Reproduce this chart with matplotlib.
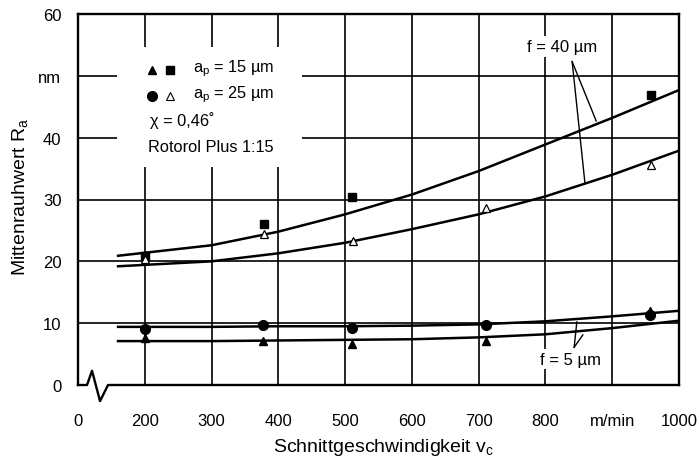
import matplotlib
matplotlib.use("Agg")
import matplotlib.pyplot as plt
from matplotlib.patches import Rectangle

plt.rcParams['font.family'] = ['Liberation Sans', 'DejaVu Sans']
plt.rcParams['mathtext.fontset'] = 'custom'
plt.rcParams['mathtext.rm'] = 'Liberation Sans'
plt.rcParams['mathtext.it'] = 'Liberation Sans:italic'

# ---- data ----
x_ticks = [100, 200, 300, 400, 500, 600, 700, 800, 900, 1000]
x_tick_labels = ['0', '200', '300', '400', '500', '600', '700', '800', 'm/min', '1000']
y_ticks = [0, 10, 20, 30, 40, 50, 60]
y_tick_labels = ['0', '10', '20', '30', '40', 'nm', '60']

# measured points
sq_v = [200, 378, 510, 958]            # a_p = 15 um, f = 40 um (filled squares)
sq_r = [20.8, 26.0, 30.4, 46.9]
otri_v = [200, 378, 512, 711, 958]     # a_p = 25 um, f = 40 um (open triangles)
otri_r = [20.3, 24.4, 23.3, 28.6, 35.6]
circ_v = [200, 377, 510, 711, 957]     # a_p = 25 um, f = 5 um (filled circles)
circ_r = [9.1, 9.7, 9.2, 9.7, 11.3]
ftri_v = [200, 377, 510, 711, 957]     # a_p = 15 um, f = 5 um (filled triangles)
ftri_r = [7.6, 7.1, 6.6, 7.1, 12.0]

# fitted curves
curve_v = [160, 300, 400, 500, 600, 700, 800, 900, 1000]
c40_15 = [20.9, 22.6, 24.8, 27.6, 30.8, 34.6, 38.9, 43.2, 47.7]
c40_25 = [19.2, 20.0, 21.3, 23.0, 25.2, 27.6, 30.5, 34.0, 37.9]
c5_25 = [9.4, 9.4, 9.5, 9.5, 9.6, 9.8, 10.3, 11.1, 12.0]
c5_15 = [7.1, 7.1, 7.2, 7.3, 7.4, 7.7, 8.2, 9.2, 10.4]

fig = plt.figure(figsize=(6.98, 4.64), dpi=100)
ax = fig.add_axes([78 / 698, 1 - 386 / 464, (679 - 78) / 698, (386 - 15) / 464])
ax.set_xlim(100, 1000)
ax.set_ylim(0, 60)

# grid lines drawn manually
for xv in x_ticks[1:-1]:
    ax.axvline(xv, color='black', lw=1.2, zorder=1)
for yv in y_ticks[1:-1]:
    ax.axhline(yv, color='black', lw=1.2, zorder=1)

# blank area for the key
ax.add_patch(Rectangle((158, 35.3), 277, 19.4, facecolor='white', edgecolor='none', zorder=2))

for s in ['left', 'right', 'top']:
    ax.spines[s].set_linewidth(1.7)
ax.spines['bottom'].set_visible(False)
# bottom axis with break
ax.plot([100, 113.5, 121, 133, 145, 1000], [0, 0, 2.3, -2.6, 0, 0],
        color='black', lw=1.7, clip_on=False, zorder=6)

ax.set_xticks(x_ticks)
ax.set_xticklabels(x_tick_labels)
ax.set_yticks(y_ticks)
ax.set_yticklabels(y_tick_labels)
ax.tick_params(axis='both', length=0, labelsize=12)
ax.tick_params(axis='x', pad=20)
ax.tick_params(axis='y', pad=12)

# curves
for cv in (c40_15, c40_25, c5_25, c5_15):
    ax.plot(curve_v, cv, color='black', lw=1.8, zorder=3)

# markers
ax.plot(sq_v, sq_r, 's', color='black', ms=6, zorder=4)
ax.plot(otri_v, otri_r, '^', mfc='white', mec='black', mew=0.9, ms=6, zorder=4)
ax.plot(circ_v, circ_r, 'o', color='black', ms=7, zorder=4)
ax.plot(ftri_v, ftri_r, '^', color='black', ms=6, zorder=4)

# key
ax.plot([211], [51.0], '^', color='black', ms=6, zorder=5)
ax.plot([238], [51.0], 's', color='black', ms=6, zorder=5)
ax.plot([211], [46.8], 'o', color='black', ms=7, zorder=5)
ax.plot([238], [46.8], '^', mfc='white', mec='black', mew=0.8, ms=6, zorder=5)
ax.text(272, 51.3, r'a$_\mathrm{p}$ = 15 µm', fontsize=11.8, va='center', zorder=5)
ax.text(272, 47.1, r'a$_\mathrm{p}$ = 25 µm', fontsize=11.8, va='center', zorder=5)
ax.text(208, 42.9, 'χ = 0,46˚', fontsize=11.8, va='center', zorder=5)
ax.text(205, 38.5, 'Rotorol Plus 1:15', fontsize=11.8, va='center', zorder=5)

# annotations
ax.text(825, 54.7, 'f = 40 µm', fontsize=12, ha='center', va='center', zorder=5,
        bbox=dict(facecolor='white', edgecolor='none', pad=2))
ax.plot([840, 876], [52.3, 42.7], color='black', lw=1.0, zorder=3)
ax.plot([840, 859], [52.3, 32.8], color='black', lw=1.0, zorder=3)

ax.text(837, 4.2, 'f = 5 µm', fontsize=12, ha='center', va='center', zorder=5,
        bbox=dict(facecolor='white', edgecolor='none', pad=2))
ax.plot([843, 847], [6.1, 10.2], color='black', lw=1.0, zorder=3)
ax.plot([843, 856], [6.1, 8.1], color='black', lw=1.0, zorder=3)

fig.text(384 / 698, 1 - 448 / 464, r'Schnittgeschwindigkeit v$_\mathrm{c}$', fontsize=14,
         ha='center', va='center')
fig.text(20 / 698, 1 - 197 / 464, r'Mittenrauhwert R$_\mathrm{a}$', fontsize=14,
         ha='center', va='center', rotation=90)

fig.savefig('out.png', dpi=100, facecolor='white')
